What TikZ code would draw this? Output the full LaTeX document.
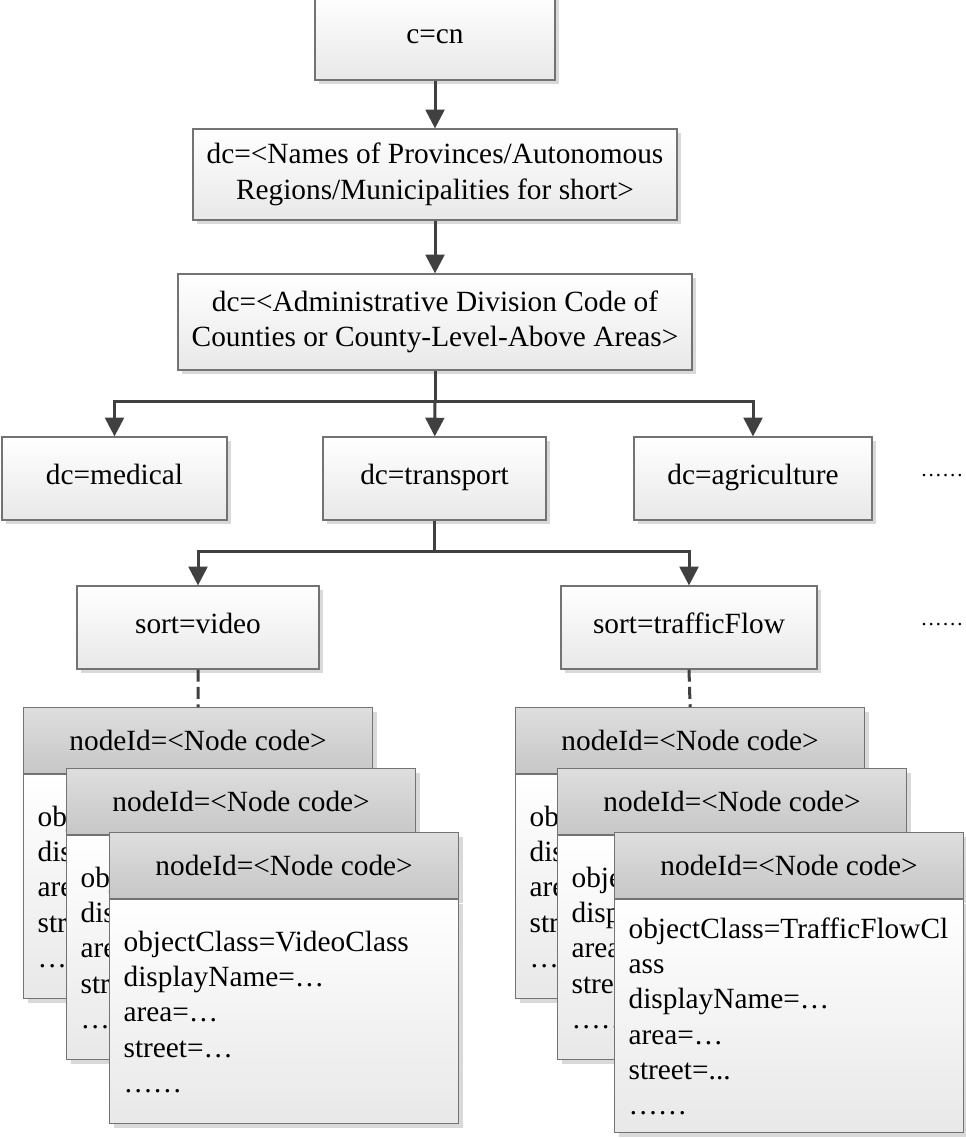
\documentclass[tikz,border=0pt]{standalone}
\usepackage{fontspec}
\setmainfont{Liberation Serif}
\usetikzlibrary{arrows.meta,shadows}
\tikzset{
BOX/.style={draw=black!55, line width=0.9pt, top color=white, bottom color=black!9, drop shadow={shadow xshift=3pt,shadow yshift=-3pt,fill=black!15,opacity=1}, minimum height=62.25pt, inner sep=0pt, align=center},
ONE/.style={BOX, text height=2.5ex, text depth=.4ex},
HEAD/.style={BOX, top color=black!13, bottom color=black!22, minimum width=261.75pt, minimum height=49.5pt, anchor=north west},
BODY/.style={BOX, anchor=north west, align=left, text width=240.75pt, inner xsep=10.5pt, minimum height=168pt},
LINK/.style={draw=black!75, line width=2.25pt},
ARROW/.style={LINK, -{Triangle[length=14pt,width=14pt]}},
DASH/.style={LINK, dash pattern=on 9pt off 4pt},
MORE/.style={font=\fontsize{16}{19}\selectfont},
}

\begin{document}
\begin{tikzpicture}[x=0.75pt, y=-0.75pt, font=\fontsize{22}{26.5}\selectfont] %directory tree
	\useasboundingbox (0,0) rectangle (966,1138);
	% upper levels
	\node[ONE, minimum width=180pt, minimum height=64.5pt] (cn) at (435,37) {c=cn};
	\node[BOX, minimum width=363pt, minimum height=68.25pt] (prov) at (435,174.5) {dc=<Names of Provinces/Autonomous\\Regions/Municipalities for short>};
	\node[BOX, minimum width=385.5pt, minimum height=72pt] (admin) at (435,322) {dc=<Administrative Division Code of\\Counties or County-Level-Above Areas>};
	\node[ONE, minimum width=168.75pt] (med) at (114.5,478.5) {dc=medical};
	\node[ONE, minimum width=167.25pt] (trans) at (434.5,478.5) {dc=transport};
	\node[ONE, minimum width=178.5pt] (agri) at (753,478.5) {dc=agriculture};
	\node[MORE] (more1) at (942,476) {……};
	\node[ONE, minimum width=181.5pt] (video) at (198,627.5) {sort=video};
	\node[ONE, minimum width=192pt] (flow) at (689,627.5) {sort=trafficFlow};
	\node[MORE] (more2) at (942,625) {……};
	\coordinate (j1) at (435,401);
	\coordinate (j2) at (434.5,551);
	\draw[ARROW] (cn) -- (prov);
	\draw[ARROW] (prov) -- (admin);
	\draw[LINK] (admin) -- (j1);
	\draw[ARROW] (j1) -| (med);
	\draw[ARROW] (j1) -- (trans);
	\draw[ARROW] (j1) -| (agri);
	\draw[LINK] (trans) -- (j2);
	\draw[ARROW] (j2) -| (video);
	\draw[ARROW] (j2) -| (flow);
	% video entries
	\node[HEAD] (vh1) at (23,707) {nodeId=<Node code>};
	\node[BODY] (vb1) at (vh1.south west) {objectClass=VideoClass\\displayName=…\\area=…\\street=…\\……};
	\node[HEAD] (vh2) at (66,768) {nodeId=<Node code>};
	\node[BODY] (vb2) at (vh2.south west) {objectClass=VideoClass\\displayName=…\\area=…\\street=…\\……};
	\node[HEAD] (vh3) at (109,832) {nodeId=<Node code>};
	\node[BODY] (vb3) at (vh3.south west) {objectClass=VideoClass\\displayName=…\\area=…\\street=…\\……};
	% traffic flow entries
	\node[HEAD] (fh1) at (515,707) {nodeId=<Node code>};
	\node[BODY] (fb1) at (fh1.south west) {\mbox{objectClass=TrafficFlowClass}\\displayName=…\\area=…\\street=...\\……};
	\node[HEAD] (fh2) at (557,768) {nodeId=<Node code>};
	\node[BODY] (fb2) at (fh2.south west) {\mbox{objectClass=TrafficFlowClass}\\displayName=…\\area=…\\street=...\\……};
	\node[HEAD] (fh3) at (614,832) {nodeId=<Node code>};
	\node[BODY, minimum height=174.75pt] (fb3) at (fh3.south west) {objectClass=TrafficFlowCl\\ass\\displayName=…\\area=…\\street=...\\……};
	\draw[DASH] (video.south) -- (vh1.north);
	\draw[DASH] (flow.south) -- (fh1.north);
\end{tikzpicture}
\end{document}
